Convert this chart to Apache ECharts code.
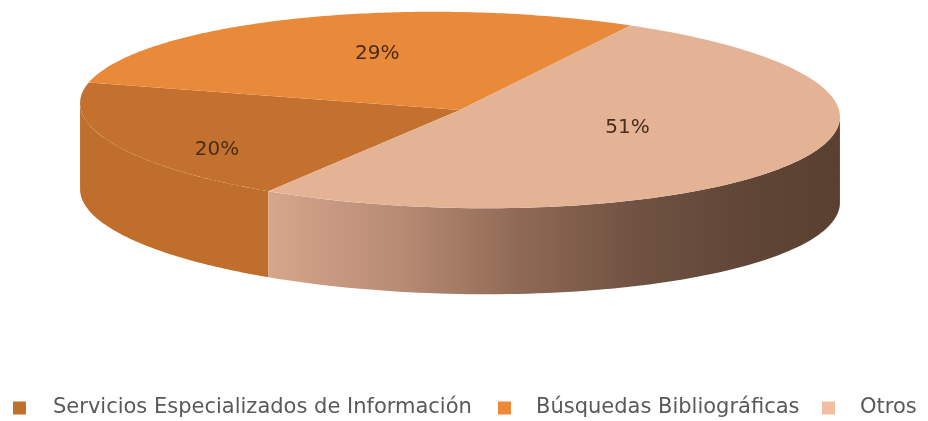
<!DOCTYPE html>
<html>
<head>
<meta charset="utf-8">
<script src="https://cdn.jsdelivr.net/npm/echarts@6/dist/echarts.min.js"></script>
<style>html,body{margin:0;padding:0;background:#fff;}#main{width:928px;height:421px;}</style>
</head>
<body>
<div id="main"></div>
<script>
const categories = ['Servicios Especializados de Información', 'Búsquedas Bibliográficas', 'Otros'];
const values = [20, 29, 51];

const topColors = ['#C4712F', '#E98A3A', '#E4B396'];
const legendColors = ['#C0702F', '#EC8A3A', '#EFBFA0'];
const otrosSide = {
  type: 'linear', x: 80, y: 0, x2: 840, y2: 0, global: true,
  colorStops: [
    { offset: 0.0, color: '#E0B096' },
    { offset: 0.25, color: '#D6A68B' },
    { offset: 0.42, color: '#B88B74' },
    { offset: 0.58, color: '#8F6954' },
    { offset: 0.74, color: '#6E5141' },
    { offset: 0.89, color: '#5F4536' },
    { offset: 1.0, color: '#5A4030' }
  ]
};
const sideColors = ['#BF6E2C', '#D67E33', otrosSide];

const total = values.reduce((a, b) => a + b, 0);
const cumul = [];
let acc = 0;
values.forEach(v => { cumul.push(acc); acc += v; });

const startDeg = 120;
const CX = 460, CY = 110, RX = 380, RY = 98, DEPTH = 86;
const TILT = 1.1 * Math.PI / 180;
const FONT = 'DejaVu Sans';

function ell(t, dy) {
  const lx = RX * Math.cos(t), ly = RY * Math.sin(t);
  return [CX + lx * Math.cos(TILT) - ly * Math.sin(TILT),
          CY + lx * Math.sin(TILT) + ly * Math.cos(TILT) + (dy || 0)];
}

function makeRender(i) {
  return function (params, api) {
    const v = api.value(0);
    const a0 = (startDeg + cumul[i] / total * 360) * Math.PI / 180;
    const a1 = (startDeg + (cumul[i] + v) / total * 360) * Math.PI / 180;
    const t0 = Math.atan(-(RY / RX) * Math.tan(TILT));
    const children = [];
    for (let k = -1; k <= 2; k++) {
      const s = Math.max(a0, 2 * k * Math.PI + t0);
      const e = Math.min(a1, 2 * k * Math.PI + t0 + Math.PI);
      if (e > s) {
        const pts = [];
        const n = 80;
        for (let j = 0; j <= n; j++) pts.push(ell(s + (e - s) * j / n));
        for (let j = n; j >= 0; j--) pts.push(ell(s + (e - s) * j / n, DEPTH));
        children.push({ type: 'polygon', shape: { points: pts }, style: { fill: sideColors[i] } });
      }
    }
    const top = [[CX, CY]];
    const n2 = 160;
    for (let j = 0; j <= n2; j++) top.push(ell(a0 + (a1 - a0) * j / n2));
    children.push({ type: 'polygon', shape: { points: top }, style: { fill: topColors[i] } });

    const m = (a0 + a1) / 2;
    const frontLeft = Math.sin(m) > 0.3 && Math.cos(m) < -0.5;
    const fx = frontLeft ? 0.7 : 0.5;
    const fy = frontLeft ? 1.0 : 0.55;
    const oy = frontLeft ? 0 : -8;
    children.push({
      type: 'text', x: CX + RX * fx * Math.cos(m), y: CY + oy + RY * fy * Math.sin(m), z2: 10,
      style: {
        text: Math.round(v / total * 100) + '%', fill: '#4A2C1A',
        font: '20px "' + FONT + '"', align: 'center', verticalAlign: 'middle'
      }
    });
    return { type: 'group', children };
  };
}

const chart = echarts.init(document.getElementById('main'));
chart.setOption({
  animation: false,
  backgroundColor: '#ffffff',
  legend: {
    left: 13, top: 397, orient: 'horizontal', padding: 0,
    icon: 'rect', itemWidth: 13, itemHeight: 13, itemGap: 18,
    textStyle: { fontFamily: FONT, fontSize: 21, color: '#595959', lineHeight: 22, padding: [0, 0, 0, 22] },
    data: [
      { name: categories[0], textStyle: { width: 427 } },
      { name: categories[1], textStyle: { width: 268, padding: [0, 0, 0, 20] } },
      { name: categories[2], textStyle: { width: 56, padding: [0, 0, 0, 20] } }
    ]
  },
  series: categories.map((c, i) => ({
    name: c,
    type: 'custom',
    coordinateSystem: 'none',
    renderItem: makeRender(i),
    itemStyle: { color: legendColors[i] },
    data: [values[i]]
  }))
});
</script>
</body>
</html>
